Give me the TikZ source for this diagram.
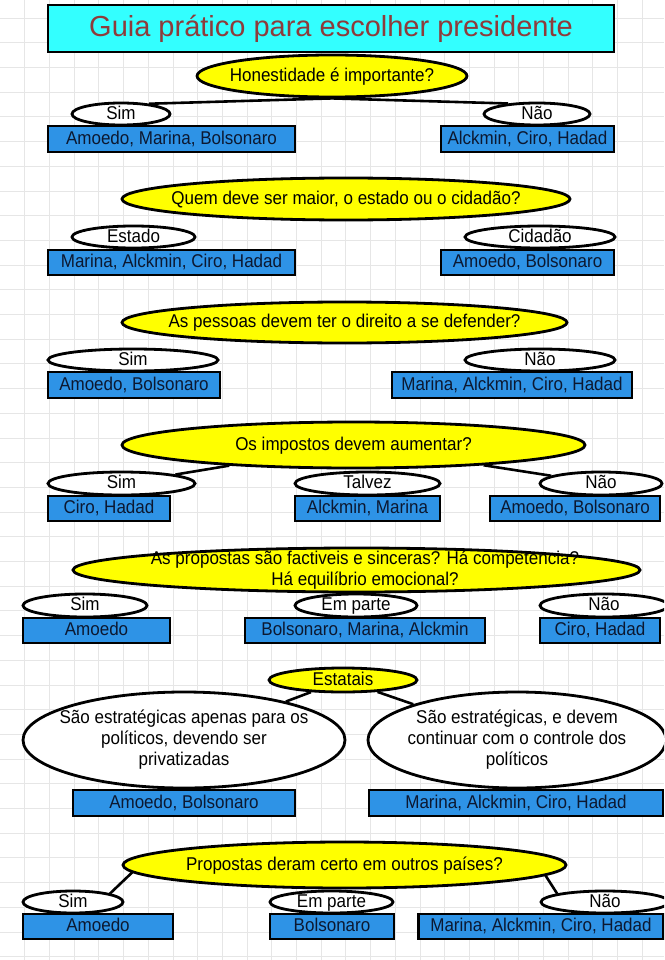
\documentclass[tikz,border=0pt]{standalone}
\usepackage{fontspec}
\setmainfont{Liberation Sans}[FakeStretch=0.92]
\newfontfamily\titlefont{Liberation Sans}
\usetikzlibrary{shapes.geometric}
\pgfdeclarelayer{background}
\pgfsetlayers{background,main}
\definecolor{titlecyan}{HTML}{33FFFF}
\definecolor{titletext}{HTML}{8E3B3B}
\definecolor{qyellow}{HTML}{FFFF00}
\definecolor{boxblue}{HTML}{2E93E6}
\definecolor{gridc}{HTML}{E6E6E6}
\definecolor{boxtext}{HTML}{0C1830}
\begin{document}
\begin{tikzpicture}[x=1pt,y=-1pt,
  lw/.style={line width=2.8pt},
  lbl/.style={font=\fontsize{18.5}{21}\selectfont,inner sep=0pt},
  one/.style={text height=13pt,text depth=2.5pt},
  txt/.style={label={[lbl,one]center:#1}},
  mtxt/.style={label={[lbl,align=center]center:#1}},
  question/.style={ellipse,draw,lw,fill=qyellow,inner sep=0pt},
  answer/.style={ellipse,draw,lw,fill=white,inner sep=0pt},
  namebox/.style={rectangle,draw,lw,fill=boxblue,inner sep=0pt,lbl,one,text=boxtext},
  conn/.style={draw,line width=2.6pt}]
\useasboundingbox (0,0) rectangle (664,960);
\clip (0,0) rectangle (664,960);
% title
\node[rectangle,draw,lw,fill=titlecyan,minimum width=566pt,minimum height=47pt,inner sep=0pt,
  font=\titlefont\fontsize{29}{34}\selectfont,text=titletext,text height=21pt,text depth=5pt] (title) at (331,28.5) {Guia prático para escolher presidente};
% Q1
\node[question,minimum width=270pt,minimum height=42pt,txt={Honestidade é importante?}] (q1) at (332,76) {};
\node[answer,minimum width=98pt,minimum height=22pt,txt=Sim] (q1a) at (121,114) {};
\node[answer,minimum width=106pt,minimum height=22pt,txt=Não] (q1b) at (537,114) {};
\node[namebox,minimum width=247pt,minimum height=26pt] (b1a) at (171.5,139) {Amoedo, Marina, Bolsonaro};
\node[namebox,minimum width=173pt,minimum height=26pt] (b1b) at (527.5,139) {Alckmin, Ciro, Hadad};
% Q2
\node[question,minimum width=448pt,minimum height=42pt,txt={Quem deve ser maior, o estado ou o cidadão?}] (q2) at (346,199) {};
\node[answer,minimum width=123pt,minimum height=22pt,txt=Estado] (q2a) at (133.5,237) {};
\node[answer,minimum width=150pt,minimum height=22pt,txt=Cidadão] (q2b) at (540,237) {};
\node[namebox,minimum width=247pt,minimum height=25pt] (b2a) at (171.5,262.5) {Marina, Alckmin, Ciro, Hadad};
\node[namebox,minimum width=173pt,minimum height=25pt] (b2b) at (527.5,262.5) {Amoedo, Bolsonaro};
% Q3
\node[question,minimum width=445pt,minimum height=41pt,txt={As pessoas devem ter o direito a se defender?}] (q3) at (344.5,322.5) {};
\node[answer,minimum width=170pt,minimum height=22pt,txt=Sim] (q3a) at (133,360) {};
\node[answer,minimum width=150pt,minimum height=22pt,txt=Não] (q3b) at (540,360) {};
\node[namebox,minimum width=172pt,minimum height=26pt] (b3a) at (134,385) {Amoedo, Bolsonaro};
\node[namebox,minimum width=240pt,minimum height=26pt] (b3b) at (512,385) {Marina, Alckmin, Ciro, Hadad};
% Q4
\node[question,minimum width=463pt,minimum height=46pt,txt={Os impostos devem aumentar?}] (q4) at (353.5,445) {};
\node[answer,minimum width=147pt,minimum height=23pt,txt=Sim] (q4a) at (121.5,483.5) {};
\node[answer,minimum width=145pt,minimum height=23pt,txt=Talvez] (q4b) at (367.5,483.5) {};
\node[answer,minimum width=122pt,minimum height=23pt,txt=Não] (q4c) at (601,483.5) {};
\node[namebox,minimum width=122pt,minimum height=25pt] (b4a) at (109,508.5) {Ciro, Hadad};
\node[namebox,minimum width=145pt,minimum height=25pt] (b4b) at (367.5,508.5) {Alckmin, Marina};
\node[namebox,minimum width=170pt,minimum height=25pt] (b4c) at (575,508.5) {Amoedo, Bolsonaro};
% Q5
\node[question,minimum width=567pt,minimum height=44pt] (q5) at (356.5,570) {};
\node[lbl,align=center] (q5t) at (365,570) {As propostas são factiveis e sinceras? Há competencia?\\Há equilíbrio emocional?};
\node[answer,minimum width=124pt,minimum height=23pt,txt=Sim] (q5a) at (85,605.5) {};
\node[answer,minimum width=122pt,minimum height=23pt,txt={Em parte}] (q5b) at (356,605.5) {};
\node[answer,minimum width=128pt,minimum height=23pt,txt=Não] (q5c) at (604,605.5) {};
\node[namebox,minimum width=147pt,minimum height=25pt] (b5a) at (96.5,630.5) {Amoedo};
\node[namebox,minimum width=240pt,minimum height=25pt] (b5b) at (365,630.5) {Bolsonaro, Marina, Alckmin};
\node[namebox,minimum width=120pt,minimum height=25pt] (b5c) at (600,630.5) {Ciro, Hadad};
% Q6
\node[question,minimum width=148pt,minimum height=24pt,txt=Estatais] (q6) at (343,680) {};
\node[answer,minimum width=322pt,minimum height=96pt,mtxt={São estratégicas apenas para os\\políticos, devendo ser\\privatizadas}] (q6a) at (184,740) {};
\node[answer,minimum width=298pt,minimum height=96pt,mtxt={São estratégicas, e devem\\continuar com o controle dos\\políticos}] (q6b) at (517,740) {};
\node[namebox,minimum width=222pt,minimum height=26pt] (b6a) at (184,803) {Amoedo, Bolsonaro};
\node[namebox,minimum width=294pt,minimum height=26pt] (b6b) at (516,803) {Marina, Alckmin, Ciro, Hadad};
% Q7
\node[question,minimum width=443pt,minimum height=46pt,txt={Propostas deram certo em outros países?}] (q7) at (344.5,865) {};
\node[answer,minimum width=100pt,minimum height=22pt,txt=Sim] (q7a) at (73,902) {};
\node[answer,minimum width=123pt,minimum height=22pt,txt={Em parte}] (q7b) at (331.5,902) {};
\node[answer,minimum width=128pt,minimum height=22pt,txt=Não] (q7c) at (605,902) {};
\node[namebox,minimum width=150pt,minimum height=25pt] (b7a) at (98,926.5) {Amoedo};
\node[namebox,minimum width=124pt,minimum height=25pt] (b7b) at (332,926.5) {Bolsonaro};
\node[namebox,minimum width=245pt,minimum height=25pt] (b7c) at (541,926.5) {Marina, Alckmin, Ciro, Hadad};
\begin{pgfonlayer}{background}
  \fill[white] (0,0) rectangle (664,960);
  \foreach \gx in {1,...,27} {\draw[gridc,line width=0.8pt] (24.7*\gx,0) -- (24.7*\gx,960);}
  \foreach \gy in {0,...,38} {\draw[gridc,line width=0.8pt] (0,18+24.7*\gy) -- (664,18+24.7*\gy);}
  \draw[conn] (q1a.20) -- (q1.south);
  \draw[conn] (q1b.160) -- (q1.south);
  \draw[conn] (q4a) -- (q4);
  \draw[conn] (q4c) -- (q4);
  \draw[conn] (q6) -- (q6a);
  \draw[conn] (q6) -- (q6b);
  \draw[conn] (q7.182) -- (q7a.13);
  \draw[conn] (q7.357.6) -- (q7c.170.6);
\end{pgfonlayer}
\end{tikzpicture}
\end{document}
